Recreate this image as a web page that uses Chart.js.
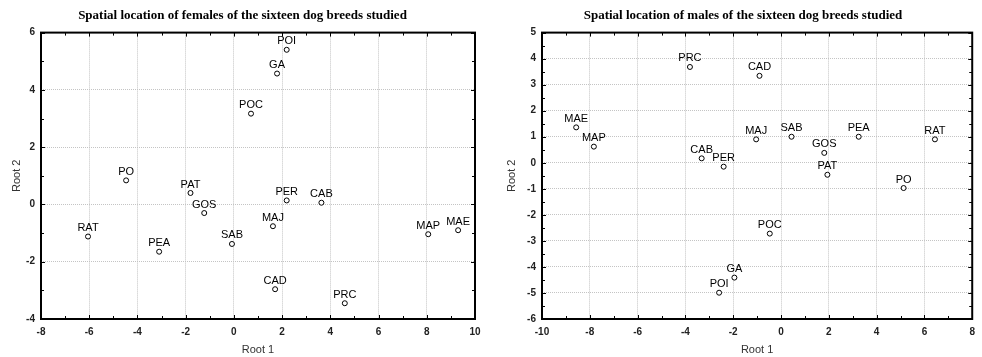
<!DOCTYPE html>
<html>
<head>
<meta charset="utf-8">
<script src="https://cdn.jsdelivr.net/npm/chart.js@4"></script>
<style>
  body { margin: 0; background: #fff; }
  .wrap { display: flex; width: 982px; height: 357px; }
  .box { width: 491px; height: 357px; }
</style>
</head>
<body>
<div class="wrap">
  <div class="box"><canvas id="females" width="491" height="357"></canvas></div>
  <div class="box"><canvas id="males" width="491" height="357"></canvas></div>
</div>
<script>
// Females
const femaleBreeds = ['POI', 'GA', 'POC', 'PO', 'PAT', 'GOS', 'PER', 'CAB', 'MAJ', 'RAT', 'SAB', 'PEA', 'MAP', 'MAE', 'CAD', 'PRC'];
const femaleRoot1 = [2.19, 1.79, 0.71, -4.47, -1.8, -1.23, 2.19, 3.63, 1.62, -6.05, -0.08, -3.1, 8.06, 9.3, 1.71, 4.6];
const femaleRoot2 = [5.4, 4.57, 3.17, 0.84, 0.4, -0.3, 0.14, 0.06, -0.76, -1.12, -1.38, -1.65, -1.04, -0.9, -2.96, -3.45];

// Males
const maleBreeds = ['PRC', 'CAD', 'MAE', 'MAP', 'MAJ', 'SAB', 'PEA', 'RAT', 'GOS', 'CAB', 'PER', 'PAT', 'PO', 'POC', 'GA', 'POI'];
const maleRoot1 = [-3.81, -0.9, -8.57, -7.83, -1.04, 0.44, 3.25, 6.44, 1.81, -3.32, -2.4, 1.94, 5.13, -0.47, -1.95, -2.59];
const maleRoot2 = [3.68, 3.34, 1.36, 0.62, 0.9, 1.0, 1.0, 0.9, 0.38, 0.17, -0.15, -0.46, -0.97, -2.72, -4.41, -4.99];

const sans = 'Arial, "Liberation Sans", sans-serif';

// point names above each marker + box frame with inward ticks
const extras = {
    id: 'extras',
    afterDatasetsDraw(chart) {
        const ctx = chart.ctx;
        const a = chart.chartArea;
        const xs = chart.scales.x, ys = chart.scales.y;
        ctx.save();
        ctx.strokeStyle = '#000';
        ctx.lineWidth = 1;
        const xt = xs.ticks.map(t => t.value);
        const yt = ys.ticks.map(t => t.value);
        const xStep = xt[1] - xt[0], yStep = yt[1] - yt[0];
        ctx.beginPath();
        for (let v = xs.min; v <= xs.max + 1e-9; v += xStep / 2) {
            const px = Math.round(xs.getPixelForValue(v)) + 0.5;
            const len = Math.abs((v - xs.min) % xStep) < 1e-6 ? 4 : 3;
            ctx.moveTo(px, a.top); ctx.lineTo(px, a.top + len);
            ctx.moveTo(px, a.bottom); ctx.lineTo(px, a.bottom - len);
        }
        for (let v = ys.min; v <= ys.max + 1e-9; v += yStep / 2) {
            const py = Math.round(ys.getPixelForValue(v)) + 0.5;
            const len = Math.abs((v - ys.min) % yStep) < 1e-6 ? 4 : 3;
            ctx.moveTo(a.left, py); ctx.lineTo(a.left + len, py);
            ctx.moveTo(a.right, py); ctx.lineTo(a.right - len, py);
        }
        ctx.stroke();
        ctx.lineWidth = 2;
        ctx.strokeRect(a.left, a.top, a.right - a.left, a.bottom - a.top);

        const ds = chart.data.datasets[0];
        const names = chart.options.plugins.extras.names;
        ctx.fillStyle = '#000';
        ctx.font = '11px ' + sans;
        ctx.textAlign = 'center';
        ctx.textBaseline = 'bottom';
        ds.data.forEach((p, i) => {
            const px = xs.getPixelForValue(p.x);
            const py = ys.getPixelForValue(p.y);
            ctx.fillText(names[i], px, py - 3);
        });
        ctx.restore();
    }
};

function makeChart(id, title, names, xs, ys, xRange, yRange, xStep, yStep, padLeft, yWidth, padRight) {
    return new Chart(document.getElementById(id), {
        type: 'scatter',
        data: {
            datasets: [{
                data: xs.map((x, i) => ({ x: x, y: ys[i] })),
                pointRadius: 2.5,
                pointHoverRadius: 2.5,
                pointBorderWidth: 1,
                pointBorderColor: '#000',
                pointBackgroundColor: '#fff'
            }]
        },
        options: {
            responsive: false,
            animation: false,
            layout: { padding: { left: padLeft, right: padRight, top: 0, bottom: 0 } },
            scales: {
                x: {
                    min: xRange[0], max: xRange[1],
                    ticks: { stepSize: xStep, color: '#222', font: { size: 10, family: sans, weight: 'bold' }, padding: 7 },
                    grid: { color: '#c4c4c4', lineWidth: 1, tickLength: 0 },
                    border: { display: false, dash: [1, 1] },
                    title: { display: true, text: 'Root 1', color: '#333', font: { size: 11, family: sans }, padding: { top: 0, bottom: 0 } },
                    afterFit: s => { s.height = 38; }
                },
                y: {
                    min: yRange[0], max: yRange[1],
                    ticks: { stepSize: yStep, color: '#222', font: { size: 10, family: sans, weight: 'bold' }, padding: 6 },
                    grid: { color: '#c4c4c4', lineWidth: 1, tickLength: 0 },
                    border: { display: false, dash: [1, 1] },
                    title: { display: true, text: 'Root 2', color: '#333', font: { size: 11, family: sans }, padding: { top: 0, bottom: 0 } },
                    afterFit: s => { s.width = yWidth; }
                }
            },
            plugins: {
                legend: { display: false },
                tooltip: { enabled: false },
                title: {
                    display: true, text: title, color: '#000',
                    font: { family: '"Liberation Serif", "Times New Roman", serif', size: 13, weight: 'bold' },
                    padding: { top: 8, bottom: 9 }
                },
                extras: { names: names }
            }
        },
        plugins: [extras]
    });
}

makeChart('females', 'Spatial location of females of the sixteen dog breeds studied',
    femaleBreeds, femaleRoot1, femaleRoot2, [-8, 10], [-4, 6], 2, 2, 10, 31, 16);
makeChart('males', 'Spatial location of males of the sixteen dog breeds studied',
    maleBreeds, maleRoot1, maleRoot2, [-10, 8], [-6, 5], 2, 1, 14, 37, 1);
</script>
</body>
</html>
